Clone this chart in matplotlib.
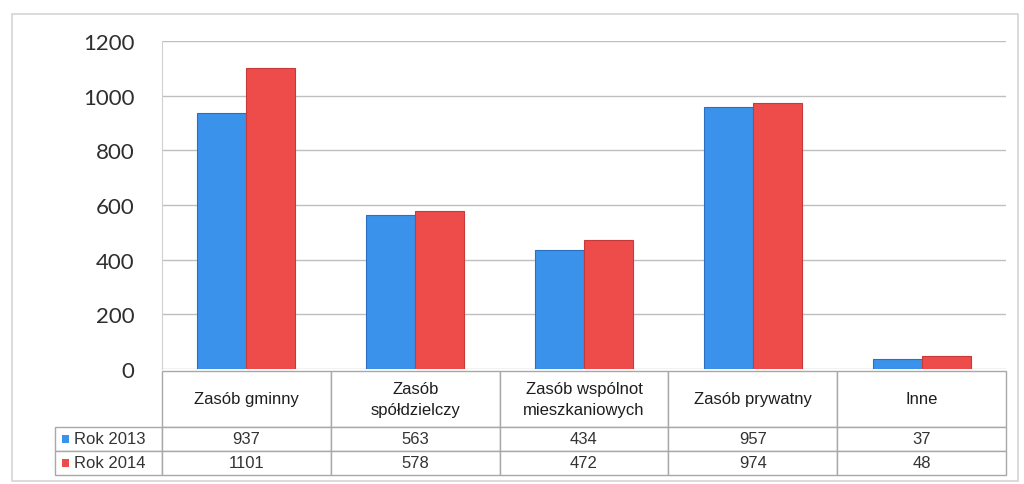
import matplotlib
matplotlib.use("Agg")
import matplotlib.pyplot as plt
from matplotlib.table import Table
from matplotlib.patches import Rectangle
import numpy as np

categories = ["Zasób gminny", "Zasób\nspółdzielczy", "Zasób wspólnot\nmieszkaniowych",
              "Zasób prywatny", "Inne"]
series_names = ["Rok 2013", "Rok 2014"]
rok_2013 = [937, 563, 434, 957, 37]
rok_2014 = [1101, 578, 472, 974, 48]
y_ticks = [0, 200, 400, 600, 800, 1000, 1200]

blue = "#3b92ea"
red = "#ee4b4b"
blue_edge = "#2a6fc0"
red_edge = "#c83a3a"
colors = [blue, red]
edges = [blue_edge, red_edge]
series = [rok_2013, rok_2014]

plt.rcParams["font.family"] = ["Lato", "DejaVu Sans"]

W, H = 1024, 485
fig = plt.figure(figsize=(W / 100, H / 100), dpi=100)
fig.patch.set_facecolor("white")

# outer frame
fig.add_artist(Rectangle((12 / W, 1 - 482 / H), 1006 / W, 467 / H, transform=fig.transFigure,
                         fill=False, edgecolor="#d4d4d4", linewidth=1.2))

left, right, top, bottom = 162, 1006, 42, 370
pw = right - left
ph = bottom - top
ax = fig.add_axes([left / W, 1 - bottom / H, pw / W, ph / H])

x = np.arange(len(categories))
bw = 0.29
for i, (vals, c, ec) in enumerate(zip(series, colors, edges)):
    off = (i - 0.5) * bw
    ax.bar(x + off, vals, width=bw, color=c, edgecolor=ec, linewidth=0.8, zorder=3)

ax.set_xlim(-0.5, len(categories) - 0.5)
ax.set_ylim(0, 1200)
ax.set_yticks(y_ticks)
ax.set_yticklabels([str(t) for t in y_ticks], fontsize=16, color="#2e2e2e")
ax.tick_params(axis="y", length=0, pad=20)
ax.set_xticks([])
ax.grid(axis="y", color="#bfbfbf", linewidth=1.0, zorder=0)
for s in ["top", "right", "bottom"]:
    ax.spines[s].set_visible(False)
ax.spines["left"].set_color("#d0d0d0")

# data table (sizes in axes fractions)
label_w = 107 / pw
col_w = 1.0 / len(categories)
header_h, row_h = 56 / ph, 24 / ph
gap = 2 / ph
total_h = header_h + 2 * row_h
tfont = ["Liberation Sans", "DejaVu Sans"]

tbl = Table(ax, bbox=[0, -(gap + total_h), 1, total_h])
edge = "#a8a8a8"
for j, cat in enumerate(categories):
    cell = tbl.add_cell(0, j, width=col_w, height=header_h, text=cat, loc="center")
    cell.set_edgecolor(edge)
    cell.get_text().set_fontsize(12)
    cell.get_text().set_family(tfont)
    cell.get_text().set_color("#1e1e1e")
    cell.get_text().set_linespacing(1.5)
for r, (name, vals) in enumerate(zip(series_names, series), start=1):
    cell = tbl.add_cell(r, -1, width=label_w, height=row_h, text=name, loc="left")
    cell.set_edgecolor(edge)
    cell.PAD = 0.18
    cell.get_text().set_fontsize(12)
    cell.get_text().set_family(tfont)
    cell.get_text().set_color("#333333")
    for j, v in enumerate(vals):
        cell = tbl.add_cell(r, j, width=col_w, height=row_h, text=str(v), loc="center")
        cell.set_edgecolor(edge)
        cell.get_text().set_fontsize(12)
        cell.get_text().set_family(tfont)
        cell.get_text().set_color("#333333")
tbl.auto_set_font_size(False)
ax.add_table(tbl)

# legend keys inside row labels
for r, c in enumerate(colors):
    yc = gap + header_h + row_h * r + row_h / 2
    ax.add_patch(Rectangle(((62 - left) / pw, -yc - 4 / ph), 7 / pw, 8 / ph,
                           transform=ax.transAxes, facecolor=c, edgecolor="none",
                           clip_on=False, zorder=5))

fig.savefig("out.png", dpi=100, facecolor="white")
